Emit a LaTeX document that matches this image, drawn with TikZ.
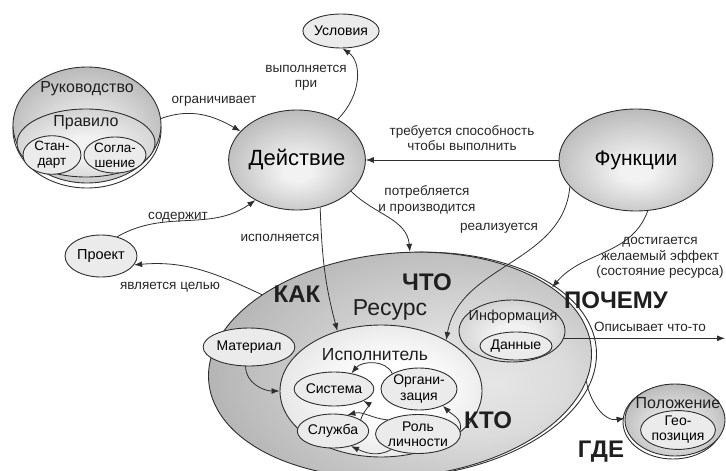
\documentclass[tikz,border=0pt]{standalone}
\usepackage{fontspec}
\setmainfont{Liberation Sans}
\usetikzlibrary{shapes.geometric,arrows.meta}

\definecolor{edge}{HTML}{2E2E2E}
\definecolor{flatfill}{HTML}{EBEBEB}
% soft radial shadings for the concept ellipses
\pgfdeclareradialshading{greyball}{\pgfpoint{0bp}{-6bp}}{color(0bp)=(white!95!black); color(5bp)=(white!95!black); color(52bp)=(black!50)}
\pgfdeclareradialshading{lightball}{\pgfpoint{0bp}{-4bp}}{color(0bp)=(white!95!black); color(8bp)=(white!95!black); color(52bp)=(black!34)}
\pgfdeclareradialshading{paleball}{\pgfpoint{4bp}{0bp}}{color(0bp)=(white); color(10bp)=(white); color(50bp)=(black!22)}
\pgfdeclareradialshading{resball}{\pgfpoint{12bp}{-4bp}}{color(0bp)=(black!10); color(12bp)=(black!14); color(55bp)=(black!50)}

\tikzset{
  ell/.style={ellipse, draw=edge, line width=0.9pt, inner sep=0pt, align=center,
    font=\fontsize{14}{15.5}\selectfont},
  flat/.style={ell, fill=flatfill},
  grey/.style={ell, shading=greyball},
  light/.style={ell, shading=lightball},
  pale/.style={ell, shading=paleball},
  rim/.style={ellipse, draw=edge, line width=0.9pt, inner sep=0pt},
  lbl/.style={font=\fontsize{13.5}{15.5}\selectfont, align=center, text=black!85, inner sep=0pt},
  title/.style={inner sep=0pt, text=black!88},
  big/.style={inner sep=0pt, font=\bfseries\fontsize{24}{24}\selectfont, text=black!88},
  con/.style={draw=edge, line width=0.8pt, -{Latex[length=8pt,width=6pt]}},
}

\begin{document}
\begin{tikzpicture}[x=1pt,y=1pt]
\useasboundingbox (0,0) rectangle (726,-471);

% ---------- Руководство ----------
\node[rim, minimum width=148, minimum height=116] (rukrim) at (87,-130) {};
\node[grey, minimum width=148, minimum height=116] (ruk) at (87,-125) {};
\node[title, font=\fontsize{16}{16}\selectfont] (rukt) at (87,-89) {Руководство};
\node[light, minimum width=138, minimum height=68] (prav) at (86,-143) {};
\node[title, font=\fontsize{16}{16}\selectfont] (pravt) at (86,-123) {Правило};
\node[flat, minimum width=58, minimum height=36, font=\fontsize{13.5}{15}\selectfont] (std) at (52,-155) {Стан-\\дарт};
\node[flat, minimum width=62, minimum height=36, font=\fontsize{13.5}{15}\selectfont] (sogl) at (115,-155) {Согла-\\шение};

% ---------- Действие, Условия, Функции, Проект ----------
\node[grey, minimum width=134, minimum height=100, font=\fontsize{22}{22}\selectfont] (act) at (297,-160) {Действие};
\node[flat, minimum width=56, minimum height=34, font=\fontsize{14}{14}\selectfont] (usl) at (341,-31) {Условия};
\node[grey, minimum width=154, minimum height=102, font=\fontsize{21}{21}\selectfont] (fun) at (636,-160) {Функции};
\node[flat, minimum width=72, minimum height=42, font=\fontsize{14.5}{14.5}\selectfont] (prj) at (101,-256) {Проект};

% ---------- Ресурс ----------
\node[rim, minimum width=384, minimum height=224, rotate=5] (resrim) at (405,-365) {};
\node[ell, shading=resball, minimum width=384, minimum height=224, rotate=5] (res) at (400,-365) {};
\node[title, font=\fontsize{23}{23}\selectfont] (rest) at (390,-310) {Ресурс};

\node[flat, minimum width=72, minimum height=38] (mat) at (249,-347) {Материал};

% Исполнитель and its members
\node[pale, minimum width=202, minimum height=132] (isp) at (381,-391) {};
\node[title, font=\fontsize{17.5}{17.5}\selectfont] (ispt) at (375,-355) {Исполнитель};
\node[flat, minimum width=64, minimum height=34] (sis) at (334,-389) {Система};
\node[flat, minimum width=62, minimum height=34] (slu) at (333,-431) {Служба};
\node[flat, minimum width=76, minimum height=42] (org) at (419,-389) {Органи-\\зация};
\node[flat, minimum width=78, minimum height=39] (rol) at (418,-434) {Роль\\личности};

% Информация
\node[light, minimum width=106, minimum height=62] (inf) at (512,-331) {};
\node[title, font=\fontsize{14.5}{14.5}\selectfont] (inft) at (513,-317) {Информация};
\node[flat, minimum width=72, minimum height=28] (dan) at (516,-346) {Данные};

% Положение
\node[rim, minimum width=100, minimum height=74] (polrim) at (673,-422) {};
\node[grey, minimum width=100, minimum height=72] (pol) at (675,-420) {};
\node[title, font=\fontsize{16}{16}\selectfont] (polt) at (678,-403) {Положение};
\node[flat, minimum width=58, minimum height=36, font=\fontsize{14}{15}\selectfont] (geo) at (678,-430) {Гео-\\позиция};

% question words
\node[big] (kak) at (297,-294) {КАК};
\node[big] (chto) at (427,-282) {ЧТО};
\node[big] (pochemu) at (616,-300) {ПОЧЕМУ};
\node[big] (kto) at (488,-420) {КТО};
\node[big] (gde) at (601,-452) {ГДЕ};

% ---------- edge labels ----------
\node[lbl] (l1) at (214,-101) {ограничивает};
\node[lbl] (l2) at (306,-78) {выполняется\\при};
\node[lbl] (l3) at (462,-138) {требуется способность\\чтобы выполнить};
\node[lbl] (l4) at (427,-200) {потребляется\\и производится};
\node[lbl] (l5) at (499,-228) {реализуется};
\node[lbl] (l6) at (660,-258) {достигается\\желаемый эффект\\(состояние ресурса)};
\node[lbl] (l7) at (178,-217) {содержит};
\node[lbl] (l8) at (280,-238) {исполняется};
\node[lbl] (l9) at (170,-287) {является целью};
\node[lbl] (l10) at (650,-327) {Описывает что-то};

\coordinate (opisend) at (725,0);

% ---------- connectors ----------
\draw[con] (ruk.5) to[out=20,in=150] (act.153);
\draw[con] (act.45) .. controls (362,-95) and (362,-62) .. (usl.-85);
\draw[con] (fun.west) -- (act.east);
\draw[con] (act.-30) to[out=-45,in=95] (res.80);
\draw[con] (act.-64) to[out=-88,in=105] (isp.126);
\draw[con] (fun.202) to[out=-95,in=80] (isp.38);
\draw[con] (fun.-77) to[out=-110,in=50] (res.22);
\draw[con] (prj.50) to[out=30,in=-145] (act.224);
\draw[con] (res.148) to[out=155,in=5] (prj.-15);
\draw[con] (mat.-100) to[out=-90,in=180] (isp.west);
\draw[con] (inf.-8) -- (inf.-8 -| opisend);
\draw[con] (res.-10) to[out=-80,in=190] (pol.178);

% inside Исполнитель
\draw[con] (org.150) to[out=115,in=50] (sis.42);
\draw[con] (slu.22) to[out=75,in=-30] (sis.-22);
\draw[con] (rol.155) to[out=175,in=15] (slu.48);
\draw[con] (rol.-150) to[out=-150,in=-25] (slu.-40);
\draw[con] (rol.5) to[out=75,in=-45] (org.-35);
\end{tikzpicture}
\end{document}
